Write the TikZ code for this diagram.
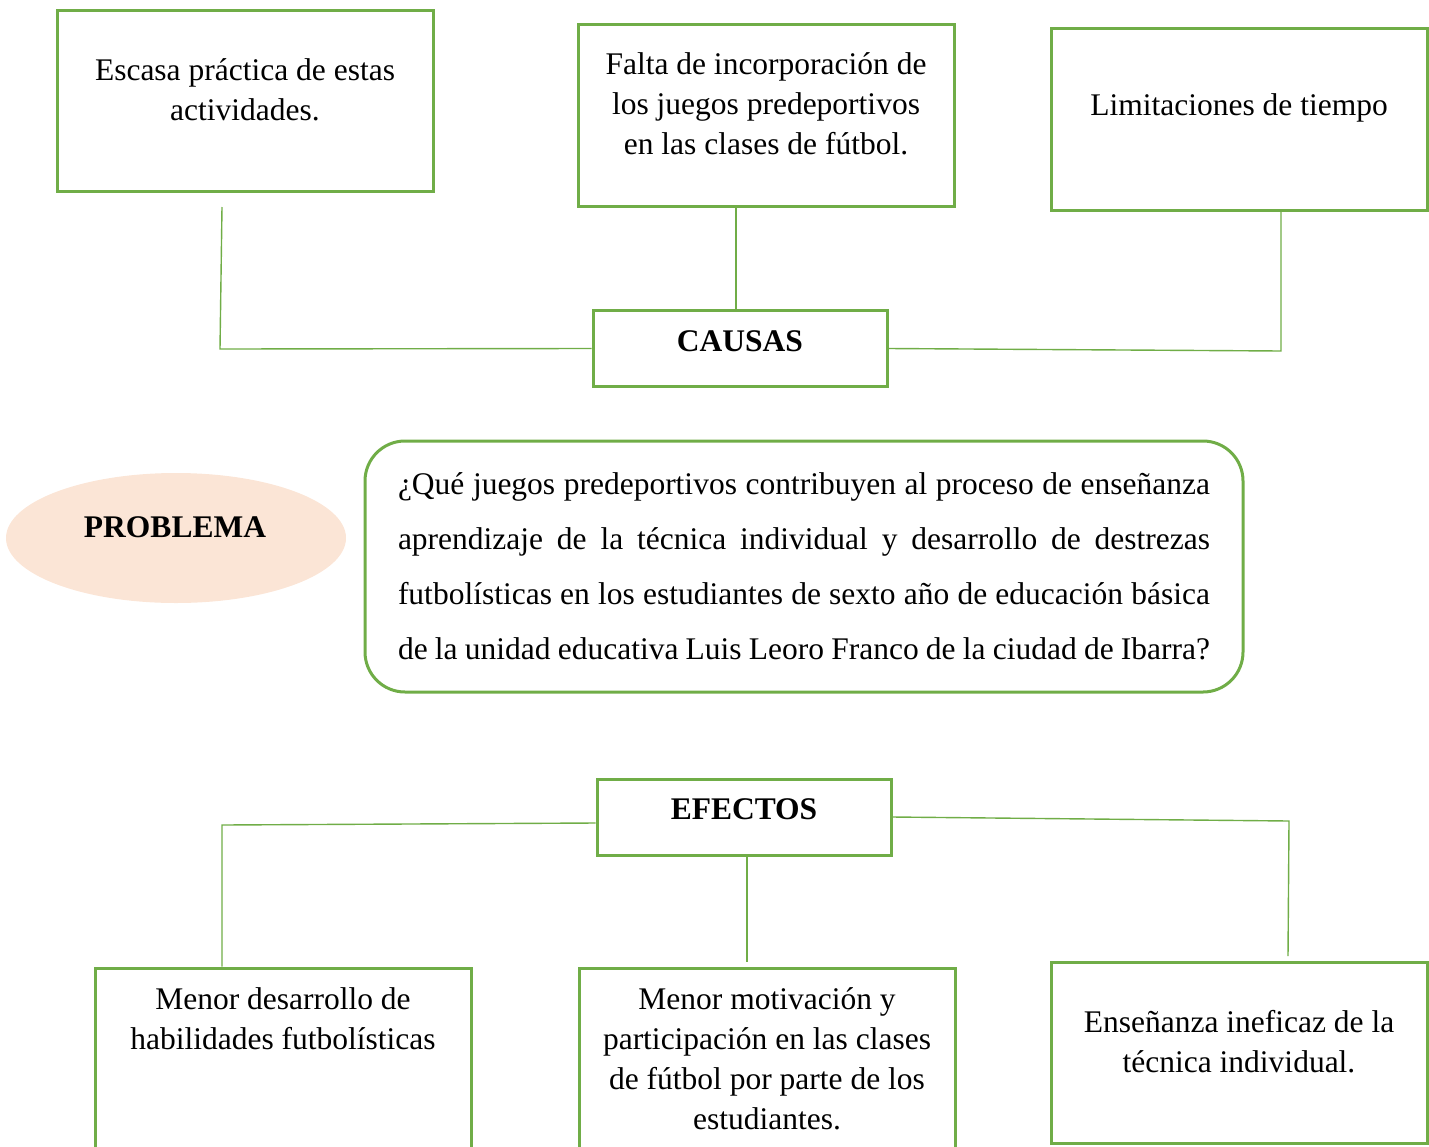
\documentclass[tikz,border=0pt]{standalone}
\usepackage{fontspec}
\setmainfont{Liberation Serif}
\usetikzlibrary{shapes.geometric,positioning}
\definecolor{verde}{RGB}{112,173,71}
\definecolor{durazno}{RGB}{251,229,214}
\tikzset{
		caja/.style={
			draw=verde, line width=3pt, minimum width=376pt, inner sep=0pt},
		titulo/.style={
			draw=verde, line width=3pt, minimum width=294pt, minimum height=76pt, inner sep=0pt},
		texto/.style={align=center, inner sep=0pt, font=\fontsize{31.5}{40}\selectfont},
		negrita/.style={inner sep=0pt, font=\fontsize{31.5}{38}\selectfont\bfseries},
		edge/.style={draw=verde, line width=1.4pt},
		linea/.style={inner sep=0pt, align=left, font=\fontsize{31.5}{55}\selectfont},
	}
\newcommand{\renglon}[1]{\makebox[812pt][s]{#1}}

\begin{document}
\begin{tikzpicture}[x=1pt, y=-1pt]
			\useasboundingbox (0,0) rectangle (1429,1146);
			% causas
			\node[caja, minimum height=181pt] (a1) at (245,100.5) {};
			\node[caja, minimum height=182pt] (a2) at (766,115) {};
			\node[caja, minimum height=182pt] (a3) at (1239,119) {};
			\node[texto] (a1t) at (245,90) {Escasa práctica de estas\\actividades.};
			\node[texto] (a2t) at (766,104) {Falta de incorporación de\\los juegos predeportivos\\en las clases de fútbol.};
			\node[texto] (a3t) at (1239,108) {Limitaciones de tiempo};
			\node[titulo] (causas) at (740,348.5) {};
			\node[negrita] (causast) at (740,341) {CAUSAS};
			\coordinate (ca) at (222,207);
			\coordinate (cb) at (220,349);
			\coordinate (cd) at (1281,351);
			\draw[edge] (ca) -- (cb) -- (causas.west);
			\draw[edge] (causas.north -| 736,0) -- (a2.south -| 736,0);
			\draw[edge] (causas.east) -- (cd) -- (cd |- a3.south);
			% problema
			\node[ellipse, fill=durazno, minimum width=340pt, minimum height=130pt] (prob) at (176,538) {};
			\node[negrita] (probt) at (175,527) {PROBLEMA};
			\node[draw=verde, line width=3pt, rounded corners=40pt, minimum width=878pt,
				minimum height=251pt] (preg) at (804,566.5) {};
			\node[linea] (pregt) at (804,566.5) {\renglon{¿Qué juegos predeportivos contribuyen al proceso de enseñanza}\\
				\renglon{aprendizaje de la técnica individual y desarrollo de destrezas}\\
				\renglon{futbolísticas en los estudiantes de sexto año de educación básica}\\
				\renglon{de la unidad educativa Luis Leoro Franco de la ciudad de Ibarra?}};
			% efectos
			\node[titulo] (efectos) at (744,817) {};
			\node[negrita] (efectost) at (744,809) {EFECTOS};
			\node[caja, minimum height=192pt] (b1) at (283,1064) {};
			\node[caja, minimum height=192pt] (b2) at (767,1064) {};
			\node[caja, minimum height=181pt] (b3) at (1239,1052.5) {};
			\node[texto] (b1t) at (283,1019) {Menor desarrollo de\\habilidades futbolísticas};
			\node[texto] (b2t) at (767,1059) {Menor motivación y\\participación en las clases\\de fútbol por parte de los\\estudiantes.};
			\node[texto] (b3t) at (1239,1042) {Enseñanza ineficaz de la\\técnica individual.};
			\coordinate (ce) at (222,825);
			\coordinate (cf) at (747,962);
			\coordinate (cg) at (1289,821);
			\coordinate (ch) at (1288,956);
			\draw[edge] (efectos.west |- 0,823) -- (ce) -- (ce |- b1.north);
			\draw[edge] (efectos.south -| cf) -- (cf);
			\draw[edge] (efectos.east) -- (cg) -- (ch);
\end{tikzpicture}
\end{document}
